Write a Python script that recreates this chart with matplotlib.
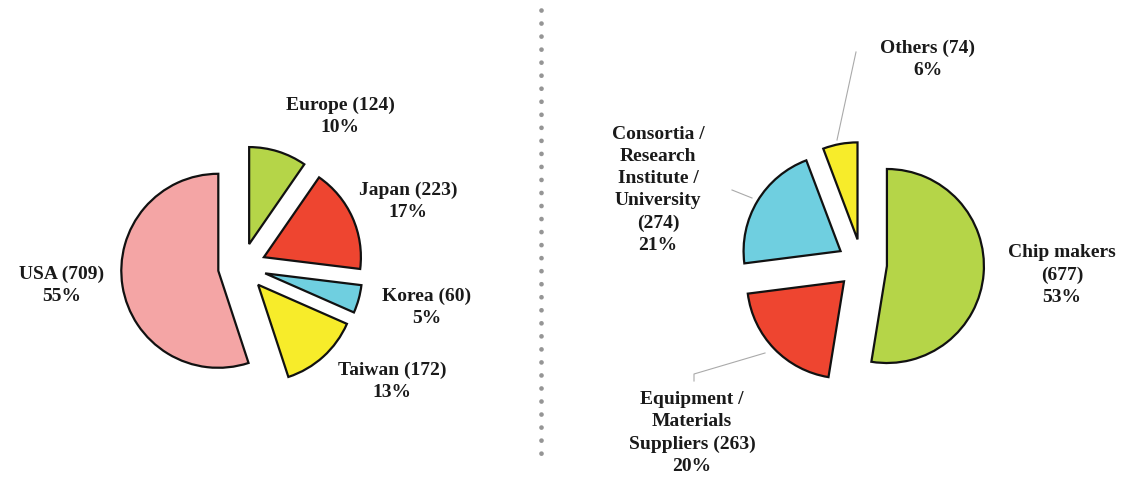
import matplotlib.pyplot as plt

# left pie: regions (counter-clockwise from 12 o'clock)
left_names = ['USA', 'Taiwan', 'Korea', 'Japan', 'Europe']
left_values = [709, 172, 60, 223, 124]
left_colors = ['#f4a5a5', '#f7ec2a', '#6fcfe0', '#ee4530', '#b5d548']

# right pie: organisation types (clockwise from 12 o'clock)
right_names = ['Chip makers\n', 'Equipment /\nMaterials\nSuppliers ',
               'Consortia /\nResearch\nInstitute /\nUniversity\n', 'Others ']
right_values = [677, 263, 274, 74]
right_colors = ['#b5d548', '#ee4530', '#6fcfe0', '#f7ec2a']

W, H = 1132, 480
fig = plt.figure(figsize=(W / 100, H / 100), dpi=100)
ax = fig.add_axes([0, 0, 1, 1])

R = 97
wp = dict(edgecolor='#111111', linewidth=1.6)

ax.pie(left_values, colors=left_colors, startangle=90, counterclock=True,
       center=(242, H - 267), radius=R, explode=[24] * len(left_values),
       wedgeprops=wp, frame=True)
ax.pie(right_values, colors=right_colors, startangle=90, counterclock=False,
       center=(862, H - 264), radius=R, explode=[25] * len(right_values),
       wedgeprops=wp, frame=True)

# label positions (image pixel coords: x, y of text block centre)
left_pos = [(62, 285), (392, 381), (427, 307), (408, 201), (340, 116)]
right_pos = [(1062, 275), (692, 433), (658, 190), (928, 59)]

txt = dict(ha='center', va='center', fontsize=14, fontweight='bold',
           family='Liberation Serif', color='#1a1a1a', linespacing=1.4)

lt = sum(left_values)
for name, v, (x, y) in zip(left_names, left_values, left_pos):
    ax.text(x, H - y, f"{name} ({v})\n{round(100 * v / lt)}%", **txt)

rt = sum(right_values)
for name, v, (x, y) in zip(right_names, right_values, right_pos):
    ax.text(x, H - y, f"{name}({v})\n{round(100 * v / rt)}%", **txt)

# leader lines
lc = dict(color='#aaaaaa', linewidth=0.8)
ax.plot([837, 856], [H - 140, H - 52], **lc)
ax.plot([752, 732], [H - 198, H - 190], **lc)
ax.plot([765, 694, 694], [H - 353, H - 374, H - 381], **lc)

# dotted separator
ax.plot([541, 541], [H - 10, H - 462], color='#959595', linewidth=3.4,
        linestyle=(0, (0.01, 2.75)), dash_capstyle='round')

ax.set_xlim(0, W)
ax.set_ylim(0, H)
ax.set_aspect('equal')
ax.axis('off')

fig.savefig('out.png', dpi=100, facecolor='white')
